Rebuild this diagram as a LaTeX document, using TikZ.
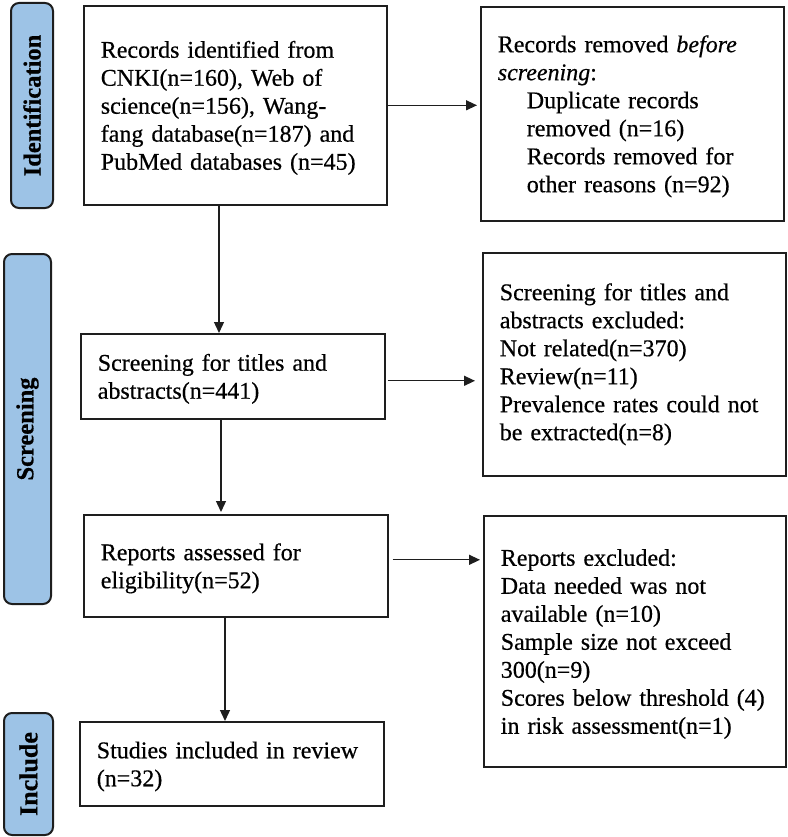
\documentclass[tikz,border=0pt]{standalone}
\usepackage{fontspec}
\setmainfont{Liberation Serif}[FakeBold=0.5]
\usetikzlibrary{arrows.meta}
\definecolor{barblue}{RGB}{157,195,230}
\definecolor{lineg}{RGB}{30,30,30}
\newcommand{\toppad}{\rule{0pt}{22pt}}
\begin{document}
\begin{tikzpicture}[x=1pt,y=-1pt,
  stagebar/.style={draw=lineg, line width=2pt, fill=barblue, rounded corners=8pt, anchor=north west, inner sep=0pt,
     font=\fontsize{24.5}{28}\selectfont\bfseries},
  flowbox/.style={draw=lineg, line width=1.6pt, anchor=north west, inner xsep=17pt, inner ysep=0pt, align=left,
     font=\fontsize{24}{28}\selectfont},
  arr/.style={draw=lineg, line width=1.3pt, -{Triangle[length=11pt,width=10pt]}}
]
\useasboundingbox (0,0) rectangle (787,837);
% stage bars
\node[stagebar, minimum width=42pt, minimum height=205pt] (idbar) at (10,2) {\rotatebox{90}{Identification}};
\node[stagebar, minimum width=47pt, minimum height=350pt] (scrbar) at (3,253) {\rotatebox{90}{Screening}};
\node[stagebar, minimum width=49pt, minimum height=122pt, font=\fontsize{26}{28}\selectfont\bfseries] (incbar) at (3,712) {\rotatebox{90}{Include}};
% left column
\node[flowbox, text width=269pt, minimum height=199pt] (id) at (83,5)
 {\toppad Records identified from\\ CNKI(n=160), Web of\\ science(n=156), Wang-\\ fang database(n=187) and\\ PubMed databases (n=45)};
\node[flowbox, text width=270pt, minimum height=85pt] (scr) at (80,333)
 {\toppad Screening for titles and\\ abstracts(n=441)};
\node[flowbox, text width=270pt, minimum height=102pt] (rep) at (83,514)
 {\toppad Reports assessed for\\ eligibility(n=52)};
\node[flowbox, text width=270pt, minimum height=84pt] (inc) at (79,721)
 {\toppad Studies included in review\\ (n=32)};
% right column
\node[flowbox, text width=269pt, minimum height=214pt] (removed) at (480,6)
 {\toppad Records removed \textit{before}\\ \textit{screening}:\\ \hspace*{29pt}Duplicate records\\ \hspace*{29pt}removed (n=16)\\ \hspace*{29pt}Records removed for\\ \hspace*{29pt}other reasons (n=92)};
\node[flowbox, text width=269pt, minimum height=223pt] (scrx) at (482,252)
 {Screening for titles and\\ abstracts excluded:\\ Not related(n=370)\\ Review(n=11)\\ Prevalence rates could not\\ be extracted(n=8)};
\node[flowbox, text width=268pt, minimum height=251pt] (repx) at (483,515)
 {\toppad Reports excluded:\\ Data needed was not\\ available (n=10)\\ Sample size not exceed\\ 300(n=9)\\ Scores below threshold (4)\\ in risk assessment(n=1)};
% arrow x positions
\coordinate (ax1) at (219,0);
\coordinate (ax2) at (221,0);
\coordinate (ax3) at (225,0);
% connectors
\draw[arr, shorten >=3pt] (id.east) -- (id.east -| removed.west);
\draw[arr, shorten <=2pt, shorten >=7pt] ([yshift=-4.5pt]scr.east) -- ([yshift=-4.5pt]scr.east -| scrx.west);
\draw[arr, shorten <=4pt, shorten >=3pt] ([yshift=6pt]rep.east) -- ([yshift=6pt]rep.east -| repx.west);
\draw[arr] (id.south -| ax1) -- (scr.north -| ax1);
\draw[arr, shorten >=2pt] (scr.south -| ax2) -- (rep.north -| ax2);
\draw[arr] (rep.south -| ax3) -- (inc.north -| ax3);
\end{tikzpicture}
\end{document}
